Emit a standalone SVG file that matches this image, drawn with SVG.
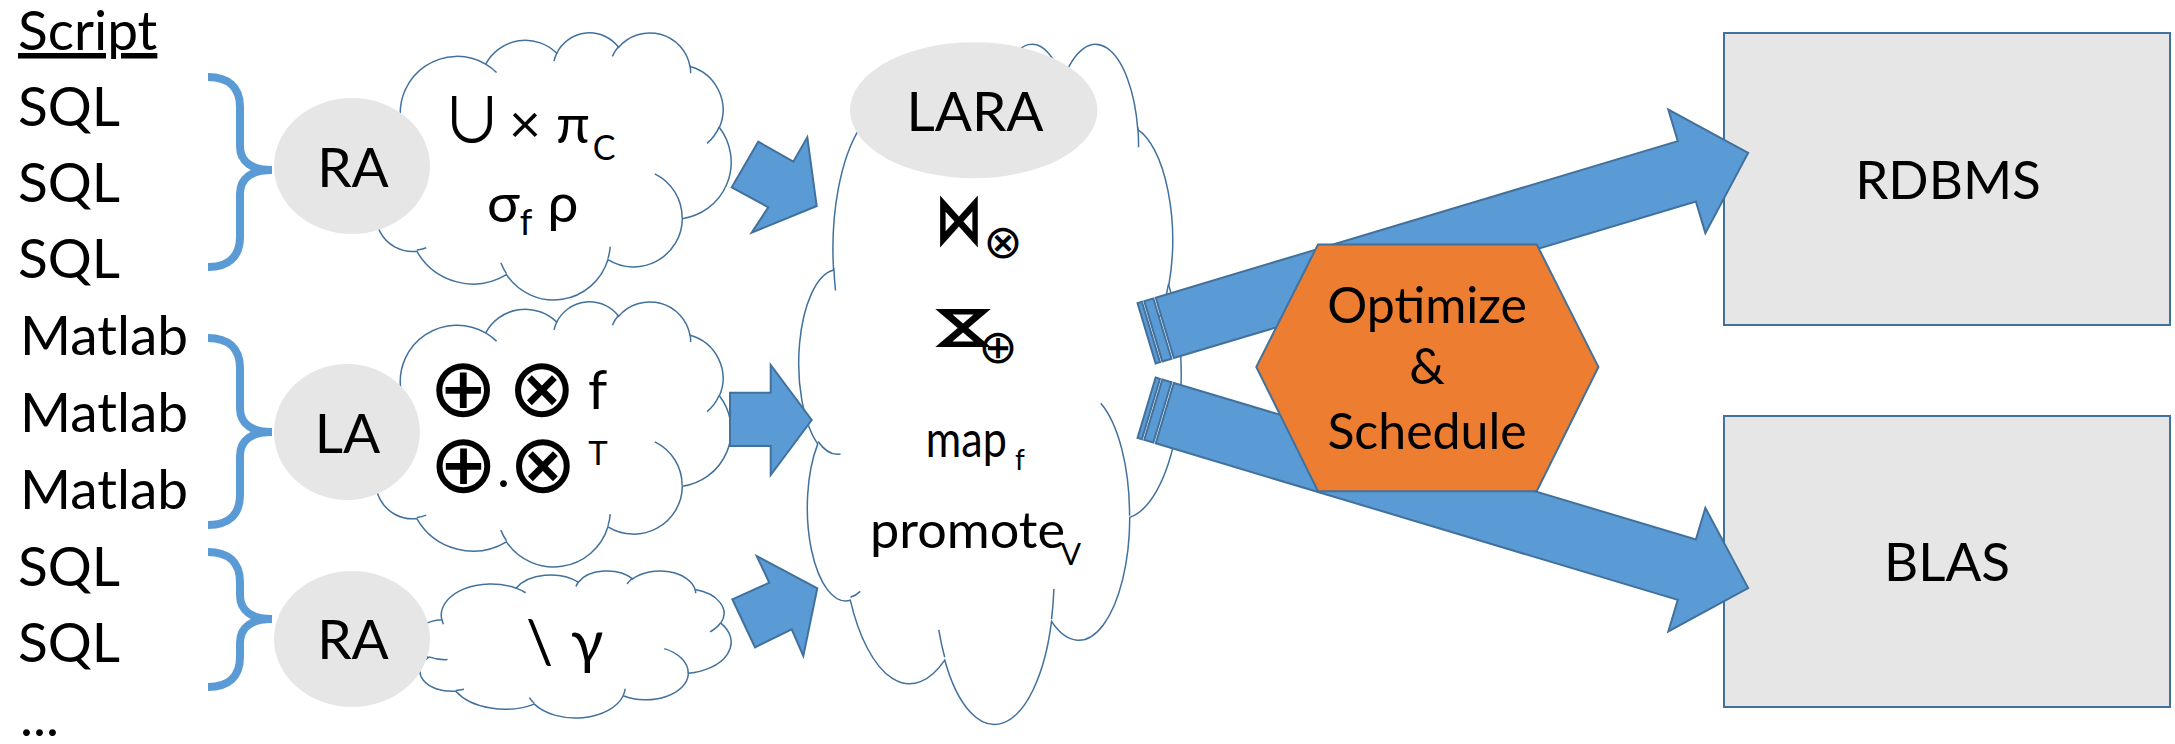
<svg xmlns="http://www.w3.org/2000/svg" width="2175" height="744" viewBox="0 0 2175 744">
<defs>
<style>
.t{font-family:Lato,"Liberation Sans","DejaVu Sans",sans-serif;fill:#000}
.m{font-family:"DejaVu Sans",sans-serif;fill:#000}
.cb{fill:#fff;stroke:#41719C;stroke-width:1.5;vector-effect:non-scaling-stroke}
.cs{fill:none;stroke:#41719C;stroke-width:1.5;vector-effect:non-scaling-stroke}
.ell{fill:#E7E6E6}
.brace{fill:none;stroke:#5B9BD5;stroke-width:8}
.arr{fill:#5B9BD5;stroke:#41719C;stroke-width:2}
.box{fill:#E7E6E6;stroke:#41719C;stroke-width:2}
.hex{fill:#ED7D31;stroke:#41719C;stroke-width:2}
</style>
<g id="cloud">
<path class="cb" d="M9.028,33.264 A15.632,21.273 0 0 1 32.421,12.044 A12.345,16.822 0 0 1 51.983,7.946 A10.104,13.762 0 0 1 69.059,5.738 A11.243,15.266 0 0 1 88.7,12.902 A12.345,16.836 0 0 1 96.803,35.781 A15.683,21.343 0 0 1 86.588,69.913 A13.391,18.211 0 0 1 66.106,85.214 A15.63,21.331 0 0 1 38.154,90.891 A17.87,24.405 0 0 1 13.439,82.104 A10.093,13.699 0 0 1 4.896,59.134 A10.058,13.762 0 0 1 8.946,33.569 Z"/>
<path class="cs" d="M10.863,60.595 A10.058,13.762 0 0 1 5,58.751 M16.037,80.785 A10.093,13.699 0 0 1 13.471,81.668 M38.144,90.486 A15.63,21.331 0 0 1 36.596,86.456 M66.729,80.442 A15.63,21.331 0 0 1 66.112,84.861 M79.002,53.134 A13.391,18.211 0 0 1 86.529,69.652 M96.755,35.542 A12.345,16.836 0 0 1 93.403,41.735 M88.713,12.56 A11.243,15.266 0 0 1 88.89,15.485 M67.31,9.148 A11.243,15.266 0 0 1 69.027,5.416 M51.252,10.926 A10.104,13.762 0 0 1 52.083,7.713 M32.407,12.019 A15.632,21.273 0 0 1 35.416,15.141 M9.553,36.549 A15.632,21.273 0 0 1 9.13,33.28"/>
</g>
<g id="striped">
<rect class="arr" x="0" y="-31.5" width="4.5" height="63"/>
<rect class="arr" x="7" y="-31.5" width="9.5" height="63"/>
<path class="arr" d="M19,-31.5 H564 V-64.5 L628,0 L564,64.5 V31.5 H19 Z"/>
</g>
</defs>
<rect width="2175" height="744" fill="#fff"/>

<g id="scripts">
<text class="t" font-size="55" x="18" y="50" text-decoration="underline">Script</text>
<text class="t" font-size="55" x="18" y="126">SQL</text>
<text class="t" font-size="55" x="18" y="202">SQL</text>
<text class="t" font-size="55" x="18" y="278">SQL</text>
<text class="t" font-size="55" x="20" y="355">Matlab</text>
<text class="t" font-size="55" x="20" y="432">Matlab</text>
<text class="t" font-size="55" x="20" y="509">Matlab</text>
<text class="t" font-size="55" x="18" y="586">SQL</text>
<text class="t" font-size="55" x="18" y="662">SQL</text>
<text class="t" font-size="55" x="20" y="736">...</text>
</g>

<g id="braces">
<path class="brace" d="M208,77 C228,77 240,87 240,107 L240,146 C240,162 252,170 272,170 C252,170 240,178 240,194 L240,237 C240,257 228,267 208,267"/>
<path class="brace" d="M208,338 C228,338 240,348 240,368 L240,408 C240,424 252,432 272,432 C252,432 240,440 240,456 L240,495 C240,515 228,525 208,525"/>
<path class="brace" d="M208,552 C228,552 240,562 240,582 L240,595 C240,611 252,619 272,619 C252,619 240,627 240,643 L240,657 C240,677 228,687 208,687"/>
</g>

<g id="cloud-ra1">
<use href="#cloud" transform="translate(368,32) scale(3.63,2.67)"/>
<text class="t" font-size="55" text-anchor="middle"><tspan x="472" y="143" font-family="'Noto Sans CJK JP','DejaVu Sans',sans-serif" font-size="62">∪</tspan><tspan x="525" y="143">×</tspan><tspan x="573" y="143">π</tspan><tspan x="604" y="160" font-size="34">C</tspan></text>
<text class="t" font-size="55" text-anchor="middle"><tspan x="503.5" y="222">σ</tspan><tspan x="526" y="235" font-size="36">f</tspan><tspan x="563" y="222">ρ</tspan></text>
</g>
<g id="cloud-la">
<use href="#cloud" transform="translate(368,301) scale(3.63,2.65)"/>
<text class="t" font-size="55" text-anchor="middle"><tspan x="463.4" y="416" font-family="DejaVu Sans" font-size="82">⊕</tspan><tspan x="542" y="416" font-family="DejaVu Sans" font-size="82">⊗</tspan><tspan x="597.6" y="409.3">f</tspan></text>
<text class="t" font-size="55" text-anchor="middle"><tspan x="463.5" y="492" font-family="DejaVu Sans" font-size="82">⊕</tspan><tspan x="503.5" y="487">.</tspan><tspan x="543" y="492" font-family="DejaVu Sans" font-size="82">⊗</tspan><tspan x="598" y="465" font-size="33">T</tspan></text>
</g>
<g id="cloud-ra2">
<use href="#cloud" transform="translate(413,570.5) scale(3.18,1.47)"/>
<text class="t" font-size="60" text-anchor="middle"><tspan x="539.5" y="663">\</tspan><tspan x="587" y="663">γ</tspan></text>
</g>

<g id="ra1">
<ellipse class="ell" cx="352" cy="166" rx="78" ry="68"/>
<text class="t" font-size="55" x="353" y="187" text-anchor="middle">RA</text>
</g>
<g id="la">
<ellipse class="ell" cx="347" cy="432" rx="73" ry="68"/>
<text class="t" font-size="55" x="347.5" y="453" text-anchor="middle">LA</text>
</g>
<g id="ra2">
<ellipse class="ell" cx="352" cy="639" rx="78" ry="68"/>
<text class="t" font-size="55" x="353" y="659" text-anchor="middle">RA</text>
</g>

<g id="rdbms">
<rect class="box" x="1724" y="33" width="446" height="292"/>
<text class="t" font-size="53" x="1948" y="199.3" text-anchor="middle">RDBMS</text>
</g>
<g id="blas">
<rect class="box" x="1724" y="416" width="446" height="291"/>
<text class="t" font-size="53" x="1947" y="581.4" text-anchor="middle">BLAS</text>
</g>

<g id="lara">
<use href="#cloud" transform="translate(799,42) scale(3.82,6.8)"/>
<ellipse class="ell" cx="973.7" cy="110.3" rx="123.7" ry="68"/>
<text class="t" font-size="55" x="975" y="131" text-anchor="middle">LARA</text>
<text class="m" font-size="48" font-weight="bold" x="0" y="14.4" text-anchor="middle" transform="translate(959,222.5) scale(1,1.5)">⋈</text>
<text class="m" font-size="47" x="1003" y="258" text-anchor="middle">⊗</text>
<text class="m" font-size="48" font-weight="bold" x="0" y="14.4" text-anchor="middle" transform="translate(962.3,328) rotate(90) scale(1,1.6)">⋈</text>
<text class="m" font-size="47" x="998" y="362.8" text-anchor="middle">⊕</text>
<text class="t" text-anchor="middle"><tspan x="966.3" y="456.7" font-size="50" textLength="81" lengthAdjust="spacingAndGlyphs">map</tspan><tspan x="1020" y="470" font-size="28">f</tspan></text>
<text class="t" text-anchor="middle"><tspan x="967.5" y="548.3" font-size="50" textLength="195" lengthAdjust="spacingAndGlyphs">promote</tspan><tspan x="1071" y="565" font-size="30">V</tspan></text>
</g>

<g id="connectors">
<polygon class="arr" points="758.3,141.7 793.3,161.7 807.3,137.3 816.7,206 751.7,232.7 768.3,207.3 731.7,187.3"/>
<polygon class="arr" points="730,392.7 770.7,392.7 770.7,365 811.7,420 770.7,475 770.7,446 730,446"/>
<polygon class="arr" points="732.3,599.3 769.3,582.7 756.7,556 817.3,588.3 803.3,656 791.7,629.3 755,647.3"/>
<use href="#striped" transform="translate(1146.6,333.3) rotate(-16.69)"/>
<use href="#striped" transform="translate(1146.6,407.7) rotate(16.69)"/>
</g>

<g id="optimize">
<polygon class="hex" points="1256.3,366.9 1318,244.4 1536.7,244.4 1598.4,366.9 1536.7,491.2 1318,491.2"/>
<text class="t" font-size="50" x="1427" y="322.7" text-anchor="middle">Optimize</text>
<text class="t" font-size="50" x="1427" y="384.4" text-anchor="middle">&amp;</text>
<text class="t" font-size="50" x="1427" y="448.5" text-anchor="middle">Schedule</text>
</g>
</svg>
